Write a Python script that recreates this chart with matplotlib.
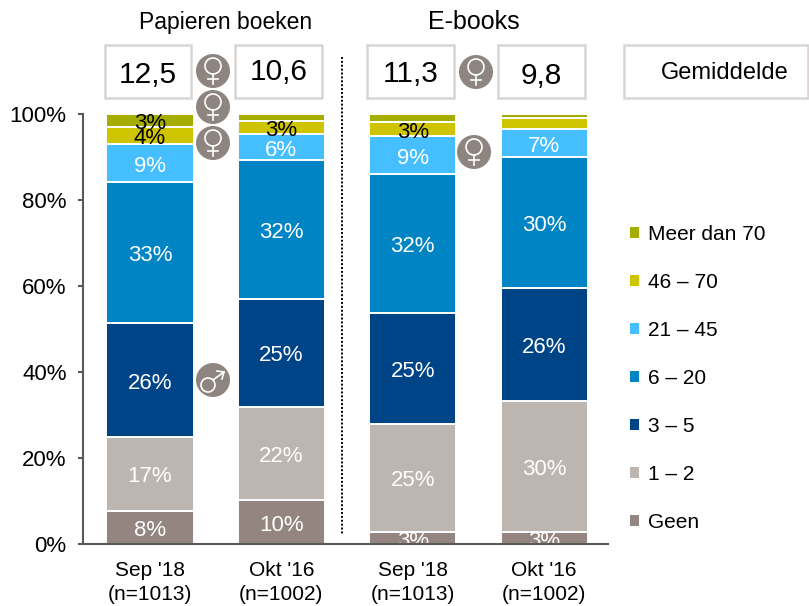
import matplotlib
matplotlib.use("Agg")
import matplotlib.pyplot as plt
from matplotlib.patches import Circle, Rectangle, Patch
import numpy as np

plt.rcParams['font.family'] = ['Liberation Sans', 'DejaVu Sans']

W, H = 809, 606
categories = ["Sep '18\n(n=1013)", "Okt '16\n(n=1002)", "Sep '18\n(n=1013)", "Okt '16\n(n=1002)"]
series_names = ["Geen", "1 – 2", "3 – 5", "6 – 20", "21 – 45", "46 – 70", "Meer dan 70"]
colors = ["#948580", "#BDB5B0", "#004488", "#0084C4", "#45BFFF", "#CFC400", "#A5AE00"]

geen = [7.7, 10.2, 2.8, 2.8]
een_twee = [17.2, 21.7, 25.2, 30.5]
drie_vijf = [26.5, 25.1, 25.7, 26.3]
zes_twintig = [32.8, 32.3, 32.3, 30.3]
s21_45 = [8.8, 6.0, 8.9, 6.7]
s46_70 = [4.0, 3.1, 3.2, 2.4]
meer_70 = [3.0, 1.6, 1.9, 1.0]
values = [geen, een_twee, drie_vijf, zes_twintig, s21_45, s46_70, meer_70]

labels = [
    ["8%", "10%", "3%", "3%"],
    ["17%", "22%", "25%", "30%"],
    ["26%", "25%", "25%", "26%"],
    ["33%", "32%", "32%", "30%"],
    ["9%", "6%", "9%", "7%"],
    ["4%", "3%", "3%", ""],
    ["3%", "", "", ""],
]
label_colors = ["white", "white", "white", "white", "white", "black", "black"]

group_titles = ["Papieren boeken", "E-books"]
averages = ["12,5", "10,6", "11,3", "9,8"]
average_label = "Gemiddelde"

fig = plt.figure(figsize=(W / 100, H / 100), dpi=100)
x0, x1, ytop, ybot = 83, 608, 114, 544
ax = fig.add_axes([x0 / W, 1 - ybot / H, (x1 - x0) / W, (ybot - ytop) / H])

pos = np.arange(4)
bottom = np.zeros(4)
width = 0.665
for name, vals, col, labs, lc in zip(series_names, values, colors, labels, label_colors):
    vals = np.array(vals)
    ax.bar(pos, vals, width, bottom=bottom, color=col, edgecolor="white", linewidth=1.4, label=name, zorder=2)
    for p, b, v, t in zip(pos, bottom, vals, labs):
        if t:
            ax.annotate(t, (p, b + v / 2), xytext=(0, -2.2), textcoords="offset points",
                        color=lc, ha="center", va="center", fontsize=16, zorder=3)
    bottom += vals

unit = 131.4
ax.set_xlim((x0 - 150) / unit, (x1 - 150) / unit)
ax.set_ylim(0, 100)
ax.set_yticks(range(0, 101, 20))
ax.set_yticklabels([f"{v}%" for v in range(0, 101, 20)], fontsize=16)
ax.set_xticks(pos)
ax.set_xticklabels(categories, fontsize=15, linespacing=1.3)
ax.tick_params(axis="x", length=0, pad=12.5)
ax.tick_params(axis="y", length=3.8, width=1.5, color="#595959", pad=8)
for s in ["top", "right"]:
    ax.spines[s].set_visible(False)
for s in ["left", "bottom"]:
    ax.spines[s].set_color("#595959")
    ax.spines[s].set_linewidth(1.5)
    ax.spines[s].set_zorder(5)

handles = [Patch(facecolor=c, label=n) for c, n in zip(colors, series_names)][::-1]
fig.legend(handles=handles, loc="upper left", bbox_to_anchor=(630 / W, 1 - 225 / H),
           bbox_transform=fig.transFigure, frameon=False, fontsize=15,
           handlelength=0.42, handleheight=0.42, handletextpad=0.45,
           labelspacing=1.39, borderpad=0, borderaxespad=0)

# overlay in pixel coordinates for boxes, icons and divider
ov = fig.add_axes([0, 0, 1, 1], zorder=10)
ov.set_xlim(0, W)
ov.set_ylim(H, 0)
ov.axis("off")

box_edges = [(105, 191), (235, 322), (367, 454), (498, 585)]
box_text_y = [75, 71.5, 73.5, 76.5]
for (a, b), t, ty in zip(box_edges, averages, box_text_y):
    ov.add_patch(Rectangle((a, 45), b - a, 53, facecolor="white", edgecolor="#D9D5D5", linewidth=1.8))
    ov.text((a + b) / 2, ty, t, fontsize=21.5, ha="center", va="center", color="black")
ov.add_patch(Rectangle((624, 45), 184, 53, facecolor="white", edgecolor="#D9D5D5", linewidth=1.8))
ov.text(725, 73, average_label, fontsize=17, ha="center", va="center", color="black")

ov.text(225.5, 22, group_titles[0], fontsize=16.5, ha="center", va="center")
ov.text(473.5, 22, group_titles[1], fontsize=18, ha="center", va="center")

ov.plot([342, 342], [57, 535], color="black", linewidth=1.4, linestyle=(0, (1, 1)))

icon_col = "#8E8580"
def female(cx, cy):
    ov.add_patch(Circle((cx, cy), 17, facecolor=icon_col, edgecolor="none"))
    ov.add_patch(Circle((cx, cy - 5), 8, facecolor="none", edgecolor="white", linewidth=1.2))
    ov.plot([cx, cx], [cy + 3, cy + 13], color="white", linewidth=1.2)
    ov.plot([cx - 5, cx + 5], [cy + 8, cy + 8], color="white", linewidth=1.2)

def male(cx, cy):
    ov.add_patch(Circle((cx, cy), 17, facecolor=icon_col, edgecolor="none"))
    ov.add_patch(Circle((cx - 5, cy + 5), 7, facecolor="none", edgecolor="white", linewidth=1.2))
    ov.plot([cx, cx + 11], [cy, cy - 8], color="white", linewidth=1.2)
    ov.plot([cx + 4, cx + 11, cx + 9], [cy - 9, cy - 8, cy - 1], color="white", linewidth=1.2)

for c in [(213, 71), (213, 107), (213, 143), (476, 72), (474, 152)]:
    female(*c)
male(213, 380)

fig.savefig("out.png", dpi=100)
